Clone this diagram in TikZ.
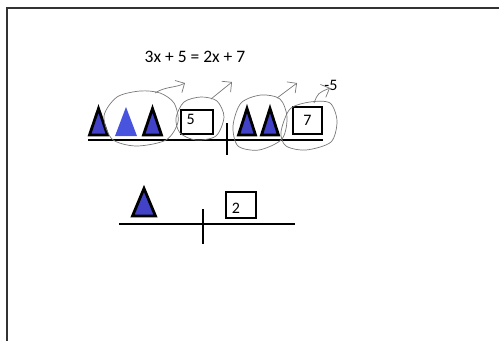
\documentclass[tikz,border=0pt]{standalone}
\usepackage{fontspec}
\setmainfont{Carlito}
\usetikzlibrary{arrows.meta, positioning}

\definecolor{triblue}{RGB}{66,66,200}
\definecolor{triblue2}{RGB}{72,84,222}
\definecolor{pencil}{RGB}{120,120,120}

\begin{document}
\begin{tikzpicture}[
    x=1pt, y=-1pt,
    font=\fontsize{16}{18}\selectfont,
    numbox/.style={draw, line width=2.4pt, minimum width=#1, minimum height=24pt, inner sep=0pt},
    tri/.style={draw, fill=triblue, line width=2.8pt, line join=miter},
    beam/.style={line width=2.6pt},
    loop/.style={draw=pencil, line width=0.7pt},
    flick/.style={draw=pencil, line width=0.7pt, -{Straight Barb[length=7pt, width=14pt]}},
  ]
  \useasboundingbox (0,0) rectangle (499,341);
  % page frame
  \draw[line width=1.4pt, black!80] (7,341) -- (7,8) -- (499,8);

  % equation
  \node[font=\fontsize{17.5}{20}\selectfont] (eqn) at (195,57) {3x + 5 = 2x + 7};

  % top balance
  \coordinate (topL) at (88,140);
  \coordinate (topR) at (323,140);
  \coordinate (pivT) at (227,123);
  \coordinate (pivB) at (227,155);
  \draw[beam] (topL) -- (topR);
  \draw[beam] (pivT) -- (pivB);

  \draw[tri] (89.5,135) -- (98.5,108.5) -- (107.5,135) -- cycle;
  \fill[triblue2] (115,136) -- (126,107) -- (137,136) -- cycle;
  \draw[tri] (143.5,135) -- (152.5,108.5) -- (161.5,135) -- cycle;
  \draw[tri] (238.5,135) -- (247,108.5) -- (255.5,135) -- cycle;
  \draw[tri] (261.5,135) -- (270,108.5) -- (278.5,135) -- cycle;

  \node[numbox=32pt] (boxfive) at (197,122) {};
  \node (five) at ([xshift=11pt, yshift=3pt]boxfive.west) {5};
  \node[numbox=29pt, minimum height=27pt] (boxseven) at (307.5,120.5) {};
  \node (seven) at (boxseven.center) {7};

  % pencil loops
  \draw[loop] plot[smooth cycle] coordinates {(104,116) (117,97) (140,91) (160,93) (174,103) (178,122) (166,140) (136,146) (112,139)};
  \draw[loop] plot[smooth cycle] coordinates {(176,118) (184,102) (201,97) (217,101) (224,117) (216,136) (196,140) (180,133)};
  \draw[loop] plot[smooth cycle] coordinates {(233,126) (241,103) (261,95) (280,99) (287,117) (282,139) (259,150) (238,146)};
  \draw[loop] plot[smooth cycle] coordinates {(281,132) (290,109) (310,102) (330,103) (337,121) (331,142) (306,150) (286,146)};

  \coordinate (lift1) at (155,93);
  \coordinate (drop1) at (185,83);
  \coordinate (lift2) at (211,99);
  \coordinate (drop2) at (232,82);
  \coordinate (lift3) at (277,98);
  \coordinate (drop3) at (297,83);
  \coordinate (lift4) at (314,103);
  \coordinate (drop4) at (330,88);
  \draw[flick] (lift1) .. controls (166,86) and (176,88) .. (drop1);
  \draw[flick] (lift2) -- (drop2);
  \draw[flick] (lift3) -- (drop3);
  \draw[flick] (lift4) .. controls (318,93) .. (drop4);
  \node[inner sep=0pt] (minusfive) at (331,85) {-5};

  % bottom balance
  \coordinate (botL) at (119,224);
  \coordinate (botR) at (295,224);
  \coordinate (pivT2) at (203,209);
  \coordinate (pivB2) at (203,244);
  \draw[beam, line width=2.3pt] (botL) -- (botR);
  \draw[beam, line width=2.3pt] (pivT2) -- (pivB2);

  \draw[tri] (132.5,216) -- (144,188.5) -- (155.5,216) -- cycle;
  \node[numbox=30pt, minimum height=26pt] (boxtwo) at (241,205) {};
  \node (two) at ([xshift=-5pt, yshift=-3pt]boxtwo.center) {2};
\end{tikzpicture}
\end{document}
